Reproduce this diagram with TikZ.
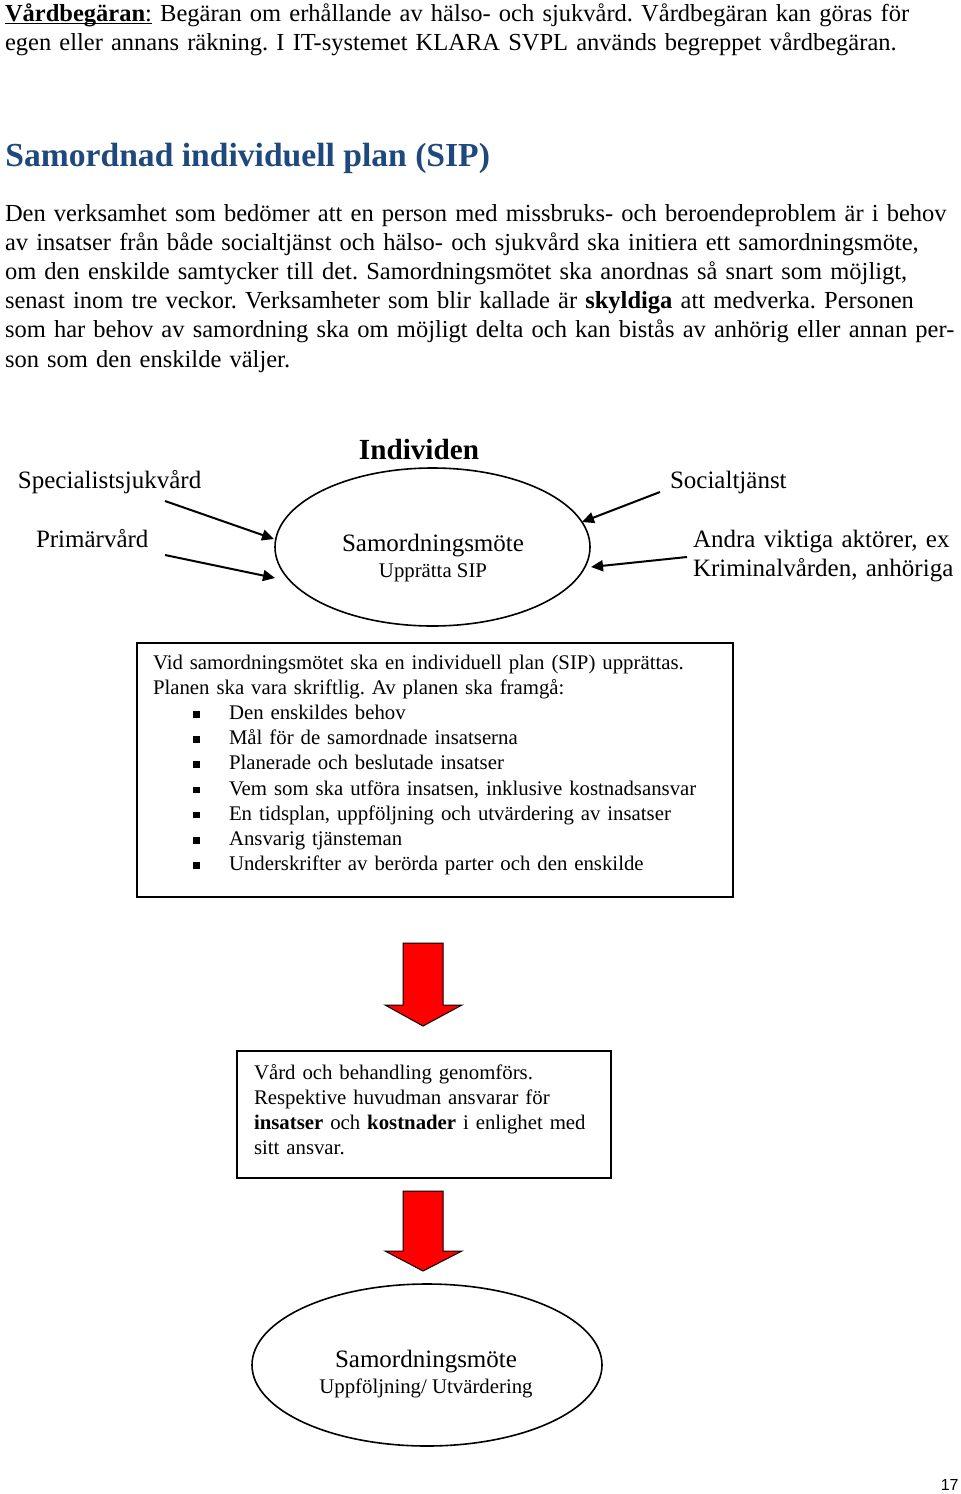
\documentclass[tikz,border=0pt]{standalone}
\usepackage{fontspec}
\setmainfont{Liberation Serif}
\newfontfamily\pagenumfont{Liberation Sans}
\usetikzlibrary{arrows.meta,shapes.geometric}
\definecolor{titleblue}{RGB}{31,73,125}
\newcommand{\bul}{\makebox[38pt][l]{\hspace*{20pt}\rule[0.9pt]{3.3pt}{3.3pt}}}
\newcommand{\myul}[1]{\setbox0=\hbox{#1}\rlap{\rule[-1.7pt]{\wd0}{0.6pt}}\box0\relax}
\frenchspacing
\begin{document}
\begin{tikzpicture}[x=0.5pt,y=-0.5pt,
  bodytext/.style={font=\fontsize{12.5}{14.6}\selectfont, inner sep=0pt, outer sep=0pt},
  paratext/.style={font=\fontsize{12.25}{14.6}\selectfont, inner sep=0pt, outer sep=0pt},
  smalltext/.style={font=\fontsize{10.4}{12.6}\selectfont, inner sep=0pt, outer sep=0pt},
  para/.style={paratext, anchor=base west, text width=#1, align=left},
  smallpara/.style={smalltext, anchor=base west, text width=#1, align=left},
  label/.style={bodytext, anchor=base west},
  boxframe/.style={draw, line width=1pt, inner sep=0pt, outer sep=0pt, anchor=north west},
  oval/.style={draw, ellipse, line width=0.8pt, inner sep=0pt, outer sep=0pt},
  conn/.style={line width=1pt, -{Triangle[length=6pt,width=5.5pt]}},
  redarrow/.style={fill=red, draw=black, line width=0.5pt, line join=miter}
]
\useasboundingbox (0,0) rectangle (960,1494);

% header definition
\node[para=475pt] (defn) at (5,21) {\myul{\textbf{Vårdbegäran}:} Begäran om erhållande av hälso- och sjukvård. Vårdbegäran kan göras för\\
egen eller annans räkning. I IT-systemet KLARA SVPL används begreppet vårdbegäran.};

% title
\node[anchor=base west, font=\fontsize{16.8}{20}\selectfont\bfseries, text=titleblue, inner sep=0pt] (title) at (5,166) {Samordnad individuell plan (SIP)};

% paragraph
\node[para=475pt] (intro) at (5,221) {Den verksamhet som bedömer att en person med missbruks- och beroendeproblem är i behov\\
av insatser från både socialtjänst och hälso- och sjukvård ska initiera ett samordningsmöte,\\
om den enskilde samtycker till det. Samordningsmötet ska anordnas så snart som möjligt,\\
senast inom tre veckor. Verksamheter som blir kallade är \textbf{skyldiga} att medverka. Personen\\
som har behov av samordning ska om möjligt delta och kan bistås av anhörig eller annan per-\\
son som den enskilde väljer.};

% diagram top
\node[anchor=base, font=\fontsize{14.6}{17}\selectfont\bfseries, inner sep=0pt] (individ) at (419,459) {Individen};
\node[label] (spec) at (18,488) {Specialistsjukvård};
\node[label] (prim) at (36,547) {Primärvård};
\node[label] (soc) at (670,488) {Socialtjänst};
\node[label, text width=140pt, align=left] (andra) at (693,547) {Andra viktiga aktörer, ex\\Kriminalvården, anhöriga};

\node[oval, minimum width=157.5pt, minimum height=79pt] (sip) at (432.5,547) {};
\node[bodytext, anchor=base] (sipA) at (433,551) {Samordningsmöte};
\node[smalltext, anchor=base] (sipB) at (433,577) {Upprätta SIP};

\coordinate (specTail) at (165,501);
\coordinate (specTip) at (274,539);
\coordinate (primTail) at (165,555);
\coordinate (primTip) at (275,578);
\coordinate (socTail) at (660,492);
\coordinate (socTip) at (582,522);
\coordinate (andraTail) at (687,557);
\coordinate (andraTip) at (591,567);
\draw[conn] (specTail) -- (specTip);
\draw[conn] (primTail) -- (primTip);
\draw[conn] (socTail) -- (socTip);
\draw[conn] (andraTail) -- (andraTip);

% plan box
\node[boxframe, minimum width=298pt, minimum height=127pt] (planbox) at (137,643) {};
\node[smallpara=300pt] (plantxt) at (153,669) {Vid samordningsmötet ska en individuell plan (SIP) upprättas.\\
Planen ska vara skriftlig. Av planen ska framgå:\\
\bul Den enskildes behov\\
\bul Mål för de samordnade insatserna\\
\bul Planerade och beslutade insatser\\
\bul Vem som ska utföra insatsen, inklusive kostnadsansvar\\
\bul En tidsplan, uppföljning och utvärdering av insatser\\
\bul Ansvarig tjänsteman\\
\bul Underskrifter av berörda parter och den enskilde};

% red arrow 1
\draw[redarrow] (403,943) -- (443,943) -- (443,1005) -- (462,1005) -- (423,1026) -- (385,1005) -- (403,1005) -- cycle;

% care box
\node[boxframe, minimum width=187pt, minimum height=63.5pt] (carebox) at (237,1051) {};
\node[smallpara=200pt] (caretxt) at (254,1079) {Vård och behandling genomförs.\\
Respektive huvudman ansvarar för\\
\textbf{insatser} och \textbf{kostnader} i enlighet med\\
sitt ansvar.};

% red arrow 2
\draw[redarrow] (403,1191) -- (443,1191) -- (443,1251) -- (462,1251) -- (423,1271) -- (385,1251) -- (403,1251) -- cycle;

% follow-up ellipse
\node[oval, minimum width=175pt, minimum height=81pt] (follow) at (427,1365) {};
\node[bodytext, anchor=base] (followA) at (426,1367) {Samordningsmöte};
\node[smalltext, anchor=base] (followB) at (426,1393) {Uppföljning/ Utvärdering};

% page number
\node[anchor=base east, font=\pagenumfont\fontsize{8}{10}\selectfont, inner sep=0pt] (pnum) at (959,1490) {17};
\end{tikzpicture}
\end{document}
